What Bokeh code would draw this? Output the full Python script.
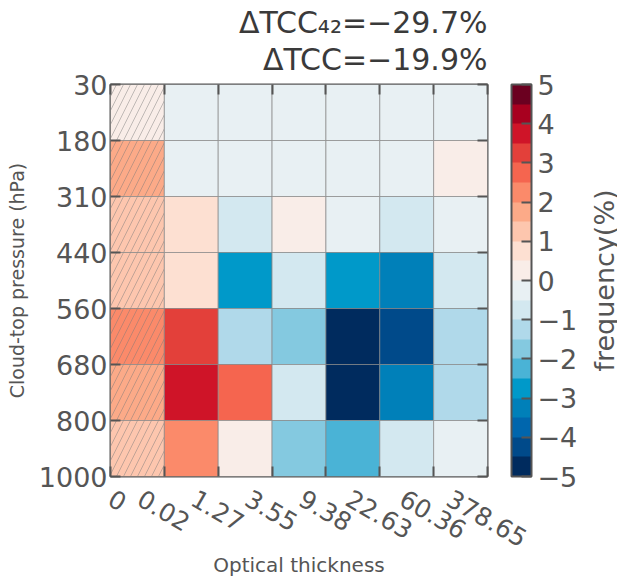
import numpy as np
from bokeh.plotting import figure
from bokeh.layouts import row
from bokeh.models import (ColumnDataSource, LinearColorMapper, ColorBar, FixedTicker,
                          LinearAxis, Title)
from bokeh.embed import file_html
from bokeh.resources import INLINE

# ---------------- data ----------------
ctp_edges = ["30", "180", "310", "440", "560", "680", "800", "1000"]          # top -> bottom
tau_edges = ["0", "0.02", "1.27", "3.55", "9.38", "22.63", "60.36", "378.65"]
# frequency difference (%) per cell, rows top (30-180 hPa) -> bottom (800-1000 hPa)
freq_diff = [
    [0.2, -0.2, -0.2, -0.2, -0.2, -0.2, -0.2],
    [1.8, -0.2, -0.2, -0.2, -0.2, -0.2, 0.2],
    [1.2, 0.7, -0.7, 0.2, -0.2, -0.7, -0.2],
    [1.2, 0.7, -2.7, -0.7, -2.7, -3.2, -0.7],
    [2.2, 3.2, -1.2, -1.7, -4.8, -4.2, -1.2],
    [1.8, 3.7, 2.7, -0.7, -4.8, -3.2, -1.2],
    [1.2, 2.2, 0.2, -1.7, -2.2, -0.7, -0.2],
]
hatched_cols = [0]
cbar_ticks = [-5, -4, -3, -2, -1, 0, 1, 2, 3, 4, 5]
palette = ["#002b5e", "#004a8a", "#0066ad", "#0080b9", "#0099c9",
           "#4ab3d6", "#84c9e0", "#b0d9ea", "#d3e8f0", "#e8f0f3",
           "#f9ede8", "#fde0d2", "#fdc6ae", "#fcaa88", "#fb8a6a",
           "#f5654f", "#e3403a", "#cf1428", "#a8001f", "#6b0020"]
title_lines = ["ΔTCC₄₂=−29.7%", "ΔTCC=−19.9%"]
x_title = "Optical thickness"
y_title = "Cloud-top pressure (hPa)"
cbar_title = "frequency(%)"

# ---------------- build ----------------
n_rows = len(ctp_edges) - 1
n_cols = len(tau_edges) - 1
TXT = "#555555"
FONT = "DejaVu Sans"
FRAME_L, FRAME_R, FRAME_T, FRAME_B = 110, 487, 84, 476   # page px of the heat-map frame
W_MAIN, H_CANVAS = 585, 600
W_SIDE = 44
px_per_col = (FRAME_R - FRAME_L) / n_cols
# approximate DejaVu Sans advance widths (em)
EM = {".": 0.318}


def text_px(s, size, default=0.636):
    return sum(EM.get(ch, default) for ch in s) * size


xs, ys, vals, hatch = [], [], [], []
for r, row_vals in enumerate(freq_diff):
    for c, v in enumerate(row_vals):
        xs.append(c + 0.5)
        ys.append(n_rows - r - 0.5)
        vals.append(v)
        hatch.append("/" if c in hatched_cols else " ")
src = ColumnDataSource(dict(x=xs, y=ys, v=vals, hatch=hatch))

mapper = LinearColorMapper(palette=palette, low=cbar_ticks[0], high=cbar_ticks[-1])

p = figure(width=W_MAIN, height=H_CANVAS, x_range=(0, n_cols), y_range=(0, n_rows),
           output_backend="svg", toolbar_location=None,
           x_axis_location=None, y_axis_location=None,
           min_border_left=FRAME_L, min_border_right=W_MAIN - FRAME_R,
           min_border_top=FRAME_T, min_border_bottom=H_CANVAS - FRAME_B)
p.grid.visible = False
p.outline_line_color = "#555555"
p.outline_line_width = 2
p.outline_line_alpha = 1.0
p.background_fill_color = "white"
p.border_fill_color = "white"

p.rect("x", "y", 1, 1, source=src,
       fill_color={"field": "v", "transform": mapper},
       line_color="#888888", line_alpha=0.7, line_width=1,
       hatch_pattern={"field": "hatch"}, hatch_color="#777777", hatch_alpha=0.45,
       hatch_scale=14, hatch_weight=1)


def tick_axis(n):
    """axis drawing inward tick marks only"""
    return LinearAxis(ticker=FixedTicker(ticks=list(range(n + 1))),
                      major_label_overrides={i: "" for i in range(n + 1)},
                      major_label_text_font_size="0px", major_label_standoff=0,
                      major_tick_in=10, major_tick_out=0,
                      major_tick_line_color="#555555", major_tick_line_width=2,
                      minor_tick_line_color=None, axis_line_color=None)


# left axis (pressure)
left = tick_axis(n_rows)
left.major_label_overrides = {i: ctp_edges[n_rows - i] for i in range(n_rows + 1)}
left.major_label_text_font = FONT
left.major_label_text_font_size = "27px"
left.major_label_text_color = TXT
left.major_label_standoff = 3
left.axis_label = y_title
left.axis_label_text_font = FONT
left.axis_label_text_font_size = "19px"
left.axis_label_text_font_style = "normal"
left.axis_label_text_color = TXT
left.axis_label_standoff = 8
p.add_layout(left, "left")

# bottom: tick marks at the bin edges ...
p.add_layout(tick_axis(n_cols), "below")
# ... and the rotated edge labels, centred on their edge like matplotlib does
theta = np.pi / 6
fs = 25
lab_ticks, lab_over = [], {}
for i, s in enumerate(tau_edges):
    w = text_px(s, fs)
    half = (w * np.cos(theta) + 0.73 * fs * np.sin(theta)) / 2 - 4
    t = round(max(0.0, i - half / px_per_col), 4)
    lab_ticks.append(t)
    lab_over[t] = s
bottom = LinearAxis(ticker=FixedTicker(ticks=lab_ticks), major_label_overrides=lab_over,
                    major_label_orientation=-theta, major_label_standoff=14,
                    major_label_text_font=FONT, major_label_text_font_size=f"{fs}px",
                    major_label_text_color=TXT,
                    major_tick_line_color=None, minor_tick_line_color=None,
                    axis_line_color=None,
                    axis_label=x_title, axis_label_standoff=-6,
                    axis_label_text_font=FONT, axis_label_text_font_size="20px",
                    axis_label_text_font_style="normal", axis_label_text_color=TXT)
p.add_layout(bottom, "below")

# top: tick marks (its blank label lifts the titles a little), then two title lines
top_ax = tick_axis(n_cols)
top_ax.axis_label = " "
top_ax.axis_label_text_font = FONT
top_ax.axis_label_text_font_size = "4px"
top_ax.axis_label_standoff = 0
p.add_layout(top_ax, "above")
for line in reversed(title_lines):
    p.add_layout(Title(text=line, align="right", text_font=FONT, text_font_size="30px",
                       text_font_style="normal", text_color="#3a3a3a", standoff=0), "above")

# right: tick marks; its blank label leaves the gap before the colour bar
right_ax = tick_axis(n_rows)
right_ax.axis_label = " "
right_ax.axis_label_text_font = FONT
right_ax.axis_label_text_font_size = "16px"
right_ax.axis_label_standoff = 2
p.add_layout(right_ax, "right")

cb = ColorBar(color_mapper=mapper, ticker=FixedTicker(ticks=cbar_ticks),
              major_label_overrides={t: str(t).replace("-", "\u2212") for t in cbar_ticks},
              width=20, padding=0, margin=0, label_standoff=6,
              major_tick_in=10, major_tick_out=0,
              major_tick_line_color="#555555", major_tick_line_width=2,
              minor_tick_line_color=None,
              bar_line_color="#555555", bar_line_width=2,
              major_label_text_font=FONT, major_label_text_font_size="27px",
              major_label_text_color=TXT,
              border_line_color=None, background_fill_color=None)
p.add_layout(cb, "right")

# colour-bar title: the (centred, bottom-to-top) label of a bare left axis of a slim
# companion figure sharing the heat map's vertical frame
side = figure(width=W_SIDE, height=H_CANVAS, x_range=(0, 1), y_range=(0, n_rows),
              output_backend="svg", toolbar_location=None,
              x_axis_location=None, y_axis_location=None,
              min_border_left=W_SIDE - 2, min_border_right=0,
              min_border_top=FRAME_T, min_border_bottom=H_CANVAS - FRAME_B)
side.grid.visible = False
side.outline_line_color = None
side.background_fill_color = "white"
side.border_fill_color = "white"
side.add_layout(LinearAxis(ticker=FixedTicker(ticks=[]), axis_line_color=None,
                           major_tick_line_color=None, minor_tick_line_color=None,
                           major_label_text_font_size="0px", major_label_standoff=0,
                           axis_label=cbar_title, axis_label_standoff=10,
                           axis_label_text_font=FONT, axis_label_text_font_size="27px",
                           axis_label_text_font_style="normal", axis_label_text_color=TXT),
                "left")

layout = row(p, side)
open("out.html", "w").write(file_html(layout, INLINE))
